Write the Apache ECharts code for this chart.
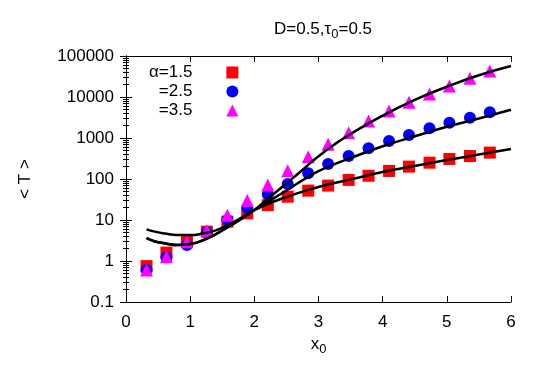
<!DOCTYPE html>
<html>
<head>
<meta charset="utf-8">
<script src="https://cdn.jsdelivr.net/npm/echarts@6/dist/echarts.min.js"></script>
<style>
  html, body { margin: 0; padding: 0; background: #fff; }
  #main { width: 545px; height: 382px; }
</style>
</head>
<body>
<div id="main"></div>
<script>
var chartDom = document.getElementById('main');
var myChart = echarts.init(chartDom);
var option;

// simulation points
var xPts = [0.32, 0.63, 0.95, 1.26, 1.58, 1.89, 2.21, 2.52, 2.84, 3.15, 3.47, 3.78, 4.10, 4.41, 4.73, 5.04, 5.36, 5.67];
var tA15 = [0.75, 1.6, 2.95, 5.2, 9.1, 14.5, 23, 37, 52, 69, 95, 120, 157, 200, 250, 308, 364, 440];
var tA25 = [0.6, 1.23, 2.45, 5.0, 10, 20, 42, 76, 138, 232, 364, 560, 845, 1180, 1720, 2360, 3120, 4240];
var tA35 = [0.6, 1.27, 2.96, 5.5, 13, 30, 71, 159, 350, 700, 1345, 2600, 4560, 7430, 11800, 18500, 28600, 43000];

// theory curves
var curveX = [0.32, 0.45, 0.6, 0.8, 1.0, 1.2, 1.4, 1.6, 1.8, 2.0, 2.2, 2.4, 2.6, 2.8, 3.0, 3.25, 3.5, 4.0, 4.5, 5.0, 5.5, 6.0];
var lineA15 = [5.9, 5.2, 4.7, 4.3, 4.3, 4.7, 5.6, 7.6, 11.5, 17.5, 24, 32, 41, 52, 64, 80, 98, 148, 208, 290, 395, 540];
var lineA25 = [3.6, 3.0, 2.7, 2.45, 2.6, 3.2, 4.5, 7.0, 11, 17.5, 27, 42, 66, 104, 155, 230, 325, 630, 1100, 1880, 3000, 4900];
var lineA35 = [3.6, 3.0, 2.7, 2.45, 2.6, 3.2, 4.5, 6.9, 10.6, 17.5, 32, 58, 105, 195, 360, 700, 1250, 3500, 8500, 17800, 34000, 57000];

var xTicks = [0, 1, 2, 3, 4, 5, 6];
var legendNames = ['\u03b1=1.5', '=2.5', '=3.5'];

var font = 'Liberation Sans';

function pairs(xs, ys) {
    return xs.map(function (x, i) { return [x, ys[i]]; });
}

function scatter(name, ys, symbol, size, color) {
    return {
        name: name,
        type: 'scatter',
        symbol: symbol,
        symbolSize: size,
        itemStyle: { color: color, opacity: 1 },
        data: pairs(xPts, ys)
    };
}

function curve(name, ys) {
    return {
        name: name,
        type: 'line',
        smooth: true,
        showSymbol: false,
        silent: true,
        lineStyle: { color: '#000', width: 2.5 },
        data: pairs(curveX, ys)
    };
}

var minorY = { show: true, splitNumber: 9, length: 3, lineStyle: { color: '#000' } };

option = {
    animation: false,
    textStyle: { fontFamily: font },
    title: {
        text: '{n|D=0.5,\u03c4}{s|0}{n|=0.5}',
        left: 318,
        top: 12,
        textAlign: 'center',
        textStyle: {
            rich: {
                n: { fontFamily: font, fontSize: 17, fontWeight: 'normal', color: '#000', lineHeight: 24 },
                s: { fontFamily: font, fontSize: 13, fontWeight: 'normal', color: '#000', verticalAlign: 'bottom' }
            }
        }
    },
    grid: { left: 126, right: 34, top: 56, bottom: 80 },
    legend: {
        data: legendNames,
        orient: 'vertical',
        align: 'right',
        left: 149,
        top: 64,
        padding: 0,
        itemGap: 2,
        itemWidth: 12,
        itemHeight: 12,
        selectedMode: false,
        textStyle: { fontFamily: font, fontSize: 17, color: '#000', padding: [0, 29, 0, 0] }
    },
    xAxis: [
        {
            type: 'value',
            min: 0, max: 6, interval: 1,
            name: '{a|x}{s|0}',
            nameLocation: 'middle',
            nameGap: 27,
            nameTextStyle: {
                rich: {
                    a: { fontFamily: font, fontSize: 17, color: '#000', lineHeight: 24 },
                    s: { fontFamily: font, fontSize: 13, color: '#000', verticalAlign: 'bottom' }
                }
            },
            axisLine: { lineStyle: { color: '#000', width: 1 } },
            axisTick: { inside: true, length: 6, lineStyle: { color: '#000' } },
            axisLabel: {
                margin: 12, fontSize: 17, color: '#000', fontFamily: font,
                formatter: function (v) { return xTicks.indexOf(v) >= 0 ? String(v) : ''; }
            },
            splitLine: { show: false }
        },
        {
            type: 'value', position: 'top',
            min: 0, max: 6, interval: 1,
            axisLine: { lineStyle: { color: '#000', width: 1 } },
            axisTick: { inside: true, length: 6, lineStyle: { color: '#000' } },
            axisLabel: { show: false },
            splitLine: { show: false }
        }
    ],
    yAxis: [
        {
            type: 'log', logBase: 10,
            min: 0.1, max: 100000,
            name: '< T >',
            nameLocation: 'middle',
            nameGap: 92,
            nameRotate: 90,
            nameTextStyle: { fontFamily: font, fontSize: 17, color: '#000' },
            axisLine: { show: true, lineStyle: { color: '#000', width: 1 } },
            axisTick: { show: true, inside: true, length: 6, lineStyle: { color: '#000' } },
            minorTick: minorY,
            axisLabel: {
                margin: 12, fontSize: 17, color: '#000', fontFamily: font,
                formatter: function (v) { return v >= 1 ? String(Math.round(v)) : String(+v.toPrecision(3)); }
            },
            splitLine: { show: false }
        },
        {
            type: 'log', logBase: 10, position: 'right',
            min: 0.1, max: 100000,
            axisLine: { show: true, lineStyle: { color: '#000', width: 1 } },
            axisTick: { show: true, inside: true, length: 6, lineStyle: { color: '#000' } },
            minorTick: minorY,
            axisLabel: { show: false },
            splitLine: { show: false }
        }
    ],
    series: [
        scatter(legendNames[0], tA15, 'rect', 12, '#ff0000'),
        scatter(legendNames[1], tA25, 'circle', 12, '#0000ff'),
        scatter(legendNames[2], tA35, 'triangle', 13, '#ff00ff'),
        curve('theory 1.5', lineA15),
        curve('theory 2.5', lineA25),
        curve('theory 3.5', lineA35)
    ]
};

option && myChart.setOption(option);
</script>
</body>
</html>
